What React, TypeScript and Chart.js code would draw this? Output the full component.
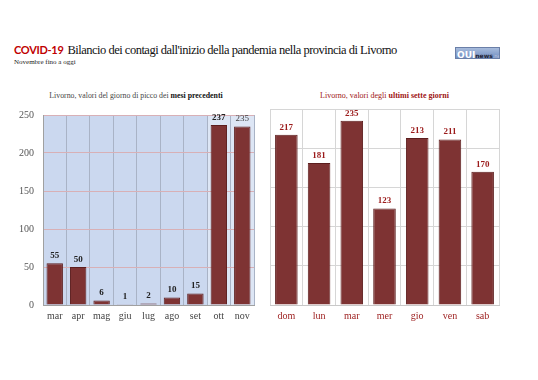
import React, { useEffect, useRef } from "react";
import { Chart, registerables } from "chart.js";

Chart.register(...registerables);

const monthLabels = ["mar", "apr", "mag", "giu", "lug", "ago", "set", "ott", "nov"];
const monthValues = [55, 50, 6, 1, 2, 10, 15, 237, 235];
const dayLabels = ["dom", "lun", "mar", "mer", "gio", "ven", "sab"];
const dayValues = [217, 181, 235, 123, 213, 211, 170];
const yTicks = [0, 50, 100, 150, 200, 250];

const SERIF = "\"Liberation Serif\", \"Times New Roman\", \"DejaVu Serif\", serif";
const BAR = "#7e3333";
const BAR_BORDER = "#5c1e1e";

const valueLabels = (color: string, lastNormalIdx: number | null) => ({
  id: "valueLabels",
  afterDatasetsDraw(chart: any) {
    const ctx = chart.ctx;
    const meta = chart.getDatasetMeta(0);
    const data = chart.data.datasets[0].data as number[];
    ctx.save();
    ctx.textAlign = "center";
    ctx.textBaseline = "bottom";
    meta.data.forEach((el: any, i: number) => {
      const normal = lastNormalIdx !== null && i === lastNormalIdx;
      ctx.font = `${normal ? "normal" : "bold"} 9px ${SERIF}`;
      ctx.fillStyle = normal ? "#444" : color;
      ctx.fillText(String(data[i]), el.x, el.y - 3);
    });
    ctx.restore();
  },
});

const bgPlugin = {
  id: "bgBands",
  beforeDraw(chart: any) {
    const { ctx, chartArea, scales } = chart;
    const x = scales.x;
    const split = (x.getPixelForValue(6) + x.getPixelForValue(7)) / 2;
    ctx.save();
    ctx.fillStyle = "#cbd8ef";
    ctx.fillRect(chartArea.left, chartArea.top, split - chartArea.left, chartArea.bottom - chartArea.top);
    ctx.fillStyle = "#dde6f5";
    ctx.fillRect(split, chartArea.top, chartArea.right - split, chartArea.bottom - chartArea.top);
    ctx.restore();
  },
};

function LeftChart() {
  const ref = useRef<HTMLCanvasElement>(null);
  useEffect(() => {
    const chart = new Chart(ref.current!, {
      type: "bar",
      data: {
        labels: monthLabels,
        datasets: [
          {
            data: monthValues,
            backgroundColor: BAR,
            borderColor: BAR_BORDER,
            borderWidth: 1,
            barPercentage: 0.7,
            categoryPercentage: 1,
          },
        ],
      },
      options: {
        animation: false,
        responsive: false,
        devicePixelRatio: 1,
        layout: { padding: { top: 12, right: 9, left: 0, bottom: 0 } },
        plugins: { legend: { display: false }, tooltip: { enabled: false } },
        scales: {
          x: {
            grid: { color: "#a9b3c6", lineWidth: 1, offset: true, drawTicks: false },
            border: { color: "#a0a0a0" },
            ticks: { color: "#444", font: { family: SERIF, size: 10 }, padding: 5 },
            afterFit: (s: any) => { s.height = 25; },
          },
          y: {
            min: 0,
            max: 250,
            afterBuildTicks: (s: any) => { s.ticks = yTicks.map((v) => ({ value: v })); },
            grid: { color: "#d8b0b6", drawTicks: false },
            border: { color: "#a0a0a0" },
            ticks: { color: "#555", font: { family: SERIF, size: 10 }, padding: 9 },
            afterFit: (s: any) => { s.width = 35; },
          },
        },
      },
      plugins: [bgPlugin, valueLabels("#222", 8)],
    });
    return () => chart.destroy();
  }, []);
  return (
    <canvas
      ref={ref}
      width={255}
      height={230}
      style={{ position: "absolute", left: 8, top: 100, width: 255, height: 230 }}
    />
  );
}

function RightChart() {
  const ref = useRef<HTMLCanvasElement>(null);
  useEffect(() => {
    const chart = new Chart(ref.current!, {
      type: "bar",
      data: {
        labels: dayLabels,
        datasets: [
          {
            data: dayValues,
            backgroundColor: BAR,
            borderColor: BAR_BORDER,
            borderWidth: 1,
            barPercentage: 0.69,
            categoryPercentage: 1,
          },
        ],
      },
      options: {
        animation: false,
        responsive: false,
        devicePixelRatio: 1,
        layout: { padding: { top: 9, right: 9, left: 7, bottom: 0 } },
        plugins: { legend: { display: false }, tooltip: { enabled: false } },
        scales: {
          x: {
            grid: { color: "#d6d6d6", offset: true, drawTicks: false },
            border: { color: "#c8c8c8" },
            ticks: { color: "#9b1b1b", font: { family: SERIF, size: 10 }, padding: 5 },
            afterFit: (s: any) => { s.height = 25; },
          },
          y: {
            min: 0,
            max: 250,
            afterBuildTicks: (s: any) => { s.ticks = yTicks.map((v) => ({ value: v })); },
            grid: { color: "#d6d6d6", drawTicks: false },
            border: { display: false },
            ticks: { display: false },
            afterFit: (s: any) => { s.width = 0; },
          },
        },
      },
      plugins: [valueLabels("#9b1b1b", null)],
    });
    return () => chart.destroy();
  }, []);
  return (
    <canvas
      ref={ref}
      width={245}
      height={230}
      style={{ position: "absolute", left: 263, top: 100, width: 245, height: 230 }}
    />
  );
}

export default function App() {
  return (
    <div
      style={{
        position: "fixed",
        left: 0,
        top: 0,
        width: 538,
        height: 380,
        background: "#fff",
        overflow: "hidden",
        fontFamily: SERIF,
      }}
    >
      <div style={{ position: "absolute", left: 14, top: 41, whiteSpace: "nowrap", lineHeight: "16px" }}>
        <span style={{ fontFamily: "Lato, \"Open Sans\", sans-serif", fontWeight: 700, fontSize: 11, letterSpacing: -0.3, color: "#c00000" }}>
          COVID-19
        </span>{" "}
        <span style={{ fontSize: 12.5, letterSpacing: -0.5, color: "#111" }}>
          Bilancio dei contagi dall'inizio della pandemia nella provincia di Livorno
        </span>
      </div>
      <div style={{ position: "absolute", left: 14, top: 58, fontSize: 7, color: "#222", whiteSpace: "nowrap" }}>
        Novembre fino a oggi
      </div>
      <div
        style={{
          position: "absolute",
          left: 455,
          top: 47,
          width: 45,
          height: 12,
          background: "linear-gradient(#a7bbdc, #7390c2)",
          border: "1px solid #6a7fa8",
          boxSizing: "border-box",
          fontFamily: "\"DejaVu Sans\", sans-serif",
          lineHeight: "10px",
          color: "#fff",
          whiteSpace: "nowrap",
          paddingLeft: 1,
          overflow: "hidden",
        }}
      >
        <b style={{ fontSize: 9 }}>QUI</b>
        <b style={{ fontSize: 6, color: "#223" }}>news</b>
        <span style={{ fontSize: 5, color: "#ccd" }}>.net</span>
      </div>
      <div
        style={{
          position: "absolute",
          left: 0,
          width: 272,
          textAlign: "center",
          top: 91,
          fontSize: 7.8,
          color: "#444",
          whiteSpace: "nowrap",
        }}
      >
        Livorno, valori del giorno di picco dei <b style={{ color: "#111" }}>mesi precedenti</b>
      </div>
      <div
        style={{
          position: "absolute",
          left: 270,
          width: 229,
          textAlign: "center",
          top: 91,
          fontSize: 8,
          color: "#a01515",
          whiteSpace: "nowrap",
        }}
      >
        Livorno, valori degli <b>ultimi sette giorni</b>
      </div>
      <LeftChart />
      <RightChart />
    </div>
  );
}
